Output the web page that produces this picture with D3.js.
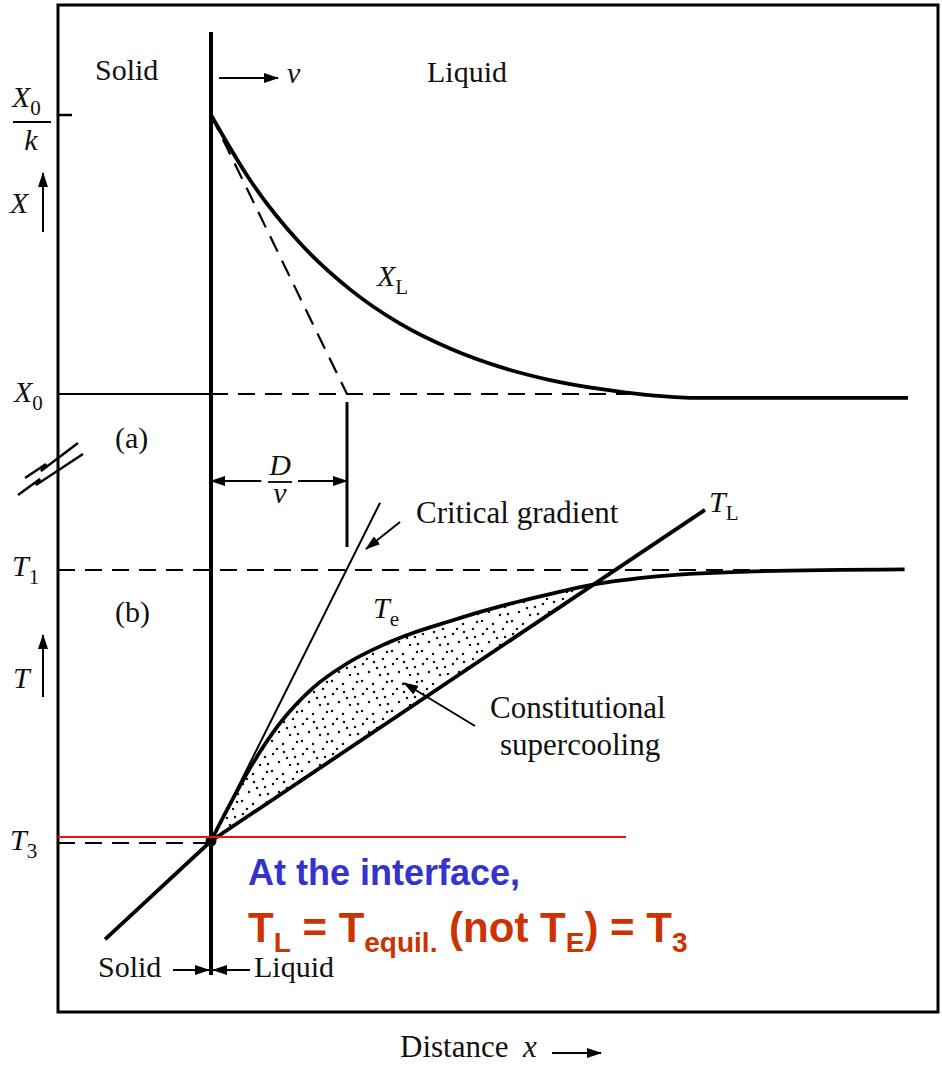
<!DOCTYPE html>
<html>
<head>
<meta charset="utf-8">
<script src="https://cdn.jsdelivr.net/npm/d3@7"></script>
<style>html, body { margin: 0; background: #fff; }</style>
</head>
<body>
<svg id="fig" width="942" height="1067"></svg>
<script>
// Constitutional supercooling: (a) solute profile ahead of the interface, (b) temperatures.
// Distance is in units of D/v (interface = 0), concentration in units of X0 (k = 0.5),
// temperature normalised so that T3 = 0 and T1 = 1.
const xlCurve = [[0, 2.0], [0.287, 1.767], [0.654, 1.541], [1.022, 1.375], [1.39, 1.252], [1.757, 1.163],
	[2.125, 1.097], [2.493, 1.05], [2.86, 1.018], [3.2, 0.997], [3.55, 0.986], [5.125, 0.986]];
const xlTangent = [[0, 2], [1, 1]];
const teCurve = [[0, 0], [0.15, 0.145], [0.3, 0.28], [0.5, 0.43], [0.75, 0.565], [1.0, 0.655],
	[1.25, 0.72], [1.5, 0.77], [1.75, 0.81], [2.0, 0.848], [2.25, 0.882], [2.5, 0.912],
	[2.8, 0.945], [3.3, 0.977], [4.0, 0.995], [5.1, 1.002]];
const tlLine = [[-0.779, -0.363], [0, 0], [3.632, 1.222]];
const criticalLine = [[0, 0], [1.243, 1.248]];
const concLevels = [1, 2];   // X0, X0/k
const tempLevels = [0, 1];   // T3, T1

const svg = d3.select('#fig');
const serif = '"Liberation Serif", "Times New Roman", serif';
const sans = '"Liberation Sans", Arial, sans-serif';

const x = d3.scaleLinear().domain([0, 1]).range([211, 347]);
const yC = d3.scaleLinear().domain([1, 2]).range([394, 115]);
const yT = d3.scaleLinear().domain([0, 1]).range([841, 570]);

const frame = { left: 58, top: 5, right: 938, bottom: 1012 };

const defs = svg.append('defs');
defs.append('marker').attr('id', 'head')
	.attr('markerUnits', 'userSpaceOnUse').attr('markerWidth', 15).attr('markerHeight', 10)
	.attr('refX', 14).attr('refY', 5).attr('orient', 'auto')
	.append('path').attr('d', 'M0,0 L15,5 L0,10 Z').attr('fill', '#000');

// stipple tile for the supercooled zone
const pat = defs.append('pattern').attr('id', 'stipple')
	.attr('patternUnits', 'userSpaceOnUse').attr('width', 30).attr('height', 30);
[[3, 4], [14, 2], [25, 7], [9, 12], [20, 15], [2, 21], [13, 24], [27, 22], [17, 8], [7, 29], [23, 29], [28, 14]]
	.forEach(d => pat.append('circle').attr('cx', d[0]).attr('cy', d[1]).attr('r', 1.25).attr('fill', '#111'));

defs.append('clipPath').attr('id', 'aboveTL').append('path')
	.attr('d', 'M' + x(0) + ',' + yT(0) + 'L' + x(tlLine[2][0]) + ',' + yT(tlLine[2][1]) +
		'L' + x(tlLine[2][0]) + ',400L' + x(0) + ',400Z');

svg.append('rect').attr('width', 942).attr('height', 1067).attr('fill', '#fff');

// frame
svg.append('rect')
	.attr('x', frame.left).attr('y', frame.top)
	.attr('width', frame.right - frame.left).attr('height', frame.bottom - frame.top)
	.attr('fill', 'none').attr('stroke', '#000').attr('stroke-width', 3);

const lineC = d3.line().x(d => x(d[0])).y(d => yC(d[1]));
const lineT = d3.line().x(d => x(d[0])).y(d => yT(d[1]));
const dash = '17,10';

// ---------- (a) concentration ----------
svg.append('line')
	.attr('x1', frame.left).attr('x2', x(0)).attr('y1', yC(concLevels[0])).attr('y2', yC(concLevels[0]))
	.attr('stroke', '#000').attr('stroke-width', 2.2);
svg.append('line')
	.attr('x1', x(0)).attr('x2', x(3.07)).attr('y1', yC(concLevels[0])).attr('y2', yC(concLevels[0]))
	.attr('stroke', '#000').attr('stroke-width', 2.2).attr('stroke-dasharray', dash);
svg.append('line')
	.attr('x1', frame.left).attr('x2', frame.left + 14).attr('y1', yC(concLevels[1])).attr('y2', yC(concLevels[1]))
	.attr('stroke', '#000').attr('stroke-width', 2.5);

svg.append('path').attr('d', lineC(xlTangent))
	.attr('fill', 'none').attr('stroke', '#000').attr('stroke-width', 2.2).attr('stroke-dasharray', dash);
svg.append('path').attr('d', lineC.curve(d3.curveMonotoneX)(xlCurve))
	.attr('fill', 'none').attr('stroke', '#000').attr('stroke-width', 3.8);

// D/v marker
svg.append('line').attr('x1', x(1)).attr('x2', x(1)).attr('y1', 402).attr('y2', 547)
	.attr('stroke', '#000').attr('stroke-width', 3);
svg.append('line').attr('x1', x(0.37)).attr('x2', x(0)).attr('y1', 481).attr('y2', 481)
	.attr('stroke', '#000').attr('stroke-width', 2).attr('marker-end', 'url(#head)');
svg.append('line').attr('x1', x(0.64)).attr('x2', x(1)).attr('y1', 481).attr('y2', 481)
	.attr('stroke', '#000').attr('stroke-width', 2).attr('marker-end', 'url(#head)');
svg.append('line').attr('x1', x(0.42)).attr('x2', x(0.595)).attr('y1', 482).attr('y2', 482)
	.attr('stroke', '#000').attr('stroke-width', 1.8);

// ---------- (b) temperature ----------
svg.append('line')
	.attr('x1', frame.left).attr('x2', x(5.05)).attr('y1', yT(tempLevels[1])).attr('y2', yT(tempLevels[1]))
	.attr('stroke', '#000').attr('stroke-width', 2.2).attr('stroke-dasharray', dash);
svg.append('line')
	.attr('x1', frame.left).attr('x2', x(0)).attr('y1', yT(tempLevels[0]) + 2).attr('y2', yT(tempLevels[0]) + 2)
	.attr('stroke', '#000').attr('stroke-width', 2.2).attr('stroke-dasharray', dash);

svg.append('path').attr('d', lineT.curve(d3.curveMonotoneX)(teCurve) + 'Z')
	.attr('fill', 'url(#stipple)').attr('stroke', 'none').attr('clip-path', 'url(#aboveTL)');

svg.append('path').attr('d', lineT.curve(d3.curveLinear)(criticalLine))
	.attr('fill', 'none').attr('stroke', '#000').attr('stroke-width', 2);
svg.append('path').attr('d', lineT.curve(d3.curveLinear)(tlLine))
	.attr('fill', 'none').attr('stroke', '#000').attr('stroke-width', 3.8);
svg.append('path').attr('d', lineT.curve(d3.curveMonotoneX)(teCurve))
	.attr('fill', 'none').attr('stroke', '#000').attr('stroke-width', 3.8);

// interface
svg.append('line').attr('x1', x(0)).attr('x2', x(0)).attr('y1', 32).attr('y2', 975)
	.attr('stroke', '#000').attr('stroke-width', 4);
svg.append('circle').attr('cx', x(0)).attr('cy', yT(0)).attr('r', 5.5).attr('fill', '#000');

// slide overlay
svg.append('line').attr('x1', frame.left).attr('x2', 626).attr('y1', 837).attr('y2', 837)
	.attr('stroke', '#ee1111').attr('stroke-width', 1.8);

// axis break
[[[25, 478], [46, 464], [41, 471], [78, 443]], [[18, 495], [40, 479], [36, 485], [83, 454]]]
	.forEach(pts => svg.append('path').attr('d', d3.line()(pts))
		.attr('fill', 'none').attr('stroke', '#000').attr('stroke-width', 2.4));

// arrows
const arrows = [
	[x(0) + 8, 78, x(0) + 67, 78],        // v
	[43, 232, 43, 173],                   // X up
	[43, 697, 43, 635],                   // T up
	[400, 522, 366, 549],                 // critical gradient
	[475, 726, 404, 683],                 // constitutional supercooling
	[173, 970, x(0) - 2, 970],            // solid ->
	[250, 970, x(0) + 2, 970],            // <- liquid
	[552, 1053, 601, 1053]                // distance
];
arrows.forEach(a => svg.append('line')
	.attr('x1', a[0]).attr('y1', a[1]).attr('x2', a[2]).attr('y2', a[3])
	.attr('stroke', '#000').attr('stroke-width', 2).attr('marker-end', 'url(#head)'));

// ---------- labels ----------
function label(px, py, parts, opts) {
	opts = opts || {};
	const size = opts.size || 30;
	const t = svg.append('text').attr('x', px).attr('y', py)
		.attr('font-family', opts.family || serif).attr('font-size', size)
		.attr('font-weight', opts.weight || 'normal')
		.attr('fill', opts.fill || '#111')
		.attr('text-anchor', opts.anchor || 'start');
	let shift = 0;
	parts.forEach(p => {
		const s = t.append('tspan').text(p.t);
		const target = p.sub ? (opts.subShift || 8) : 0;
		if (target !== shift) { s.attr('dy', target - shift); shift = target; }
		if (p.italic) s.attr('font-style', 'italic');
		if (p.sub) s.attr('font-size', opts.subSize || size * 0.7);
	});
	return t;
}

label(95, 80, [{ t: 'Solid' }]);
label(427, 82, [{ t: 'Liquid' }]);
label(287, 83, [{ t: 'ν', italic: true }]);
label(377, 286, [{ t: 'X', italic: true }, { t: 'L', sub: true }]);
label(115, 448, [{ t: '(a)' }]);
label(115, 622, [{ t: '(b)' }]);
label(280, 475, [{ t: 'D', italic: true }], { anchor: 'middle' });
label(280, 503, [{ t: 'ν', italic: true }], { anchor: 'middle' });
label(416, 523, [{ t: 'Critical gradient' }], { size: 31 });
label(709, 512, [{ t: 'T', italic: true }, { t: 'L', sub: true }]);
label(373, 618, [{ t: 'T', italic: true }, { t: 'e', sub: true }]);
label(490, 718, [{ t: 'Constitutional' }], { size: 31 });
label(500, 755, [{ t: 'supercooling' }], { size: 31 });
label(98, 977, [{ t: 'Solid' }]);
label(254, 977, [{ t: 'Liquid' }]);
label(400, 1057, [{ t: 'Distance' }], { size: 31 });
label(523, 1057, [{ t: 'x', italic: true }], { size: 31 });

// left-hand level labels
label(12, yC(concLevels[1]) - 8, [{ t: 'X', italic: true }, { t: '0', sub: true }]);
svg.append('line').attr('x1', 13).attr('x2', 51).attr('y1', yC(concLevels[1]) + 7).attr('y2', yC(concLevels[1]) + 7)
	.attr('stroke', '#000').attr('stroke-width', 2);
label(31, yC(concLevels[1]) + 35, [{ t: 'k', italic: true }], { anchor: 'middle' });
label(10, 213, [{ t: 'X', italic: true }]);
label(14, yC(concLevels[0]) + 8, [{ t: 'X', italic: true }, { t: '0', sub: true }]);
label(12, yT(tempLevels[1]) + 6, [{ t: 'T', italic: true }, { t: '1', sub: true }]);
label(13, 688, [{ t: 'T', italic: true }]);
label(10, yT(tempLevels[0]) + 9, [{ t: 'T', italic: true }, { t: '3', sub: true }]);

// slide annotation
label(248, 885, [{ t: 'At the interface,' }],
	{ family: sans, weight: 'bold', size: 36, fill: '#3434cc' });
label(248, 942, [
	{ t: 'T' }, { t: 'L', sub: true }, { t: ' = T' }, { t: 'equil.', sub: true },
	{ t: ' (not T' }, { t: 'E', sub: true }, { t: ') = T' }, { t: '3', sub: true }
], { family: sans, weight: 'bold', size: 42, subSize: 28, subShift: 10, fill: '#cc3300' });
</script>
</body>
</html>
